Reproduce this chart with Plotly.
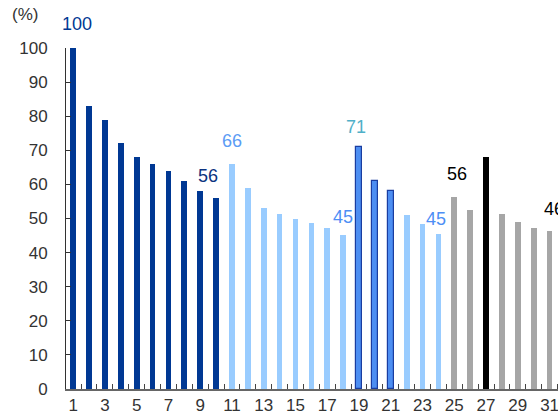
import plotly.graph_objects as go

# ---- data ----
positions = list(range(1, 32))
values = [100, 83, 79, 72, 68, 66, 64, 61, 58, 56,
          66, 59, 53, 51.3, 50, 48.7, 47.2, 45.2,
          71, 61, 58,
          51, 48.4, 45.5,
          56.4, 52.5, 68, 51.3, 49, 47.2, 46.3]
groups = (["dark"] * 10 + ["light"] * 8 + ["mid"] * 3 + ["light"] * 3 +
          ["grey"] * 2 + ["black"] + ["grey"] * 4)
tick_vals = list(range(1, 32, 2))
tick_text = [str(v) for v in tick_vals]

label_pos = [1, 10, 11, 18, 19, 24, 25, 31]
label_text = ["100", "56", "66", "45", "71", "45", "56", "46"]

# ---- styles ----
fill = {"dark": "#003893", "light": "#99ccff", "mid": "#4d8ef2",
        "grey": "#a6a6a6", "black": "#000000"}
edge_w = {"dark": 0, "light": 0, "mid": 1.2, "grey": 0, "black": 0}
label_color = ["#003893", "#0c3380", "#5b9cf5", "#4d8ef5", "#4fb0c8",
               "#4d8ef5", "#000000", "#000000"]
label_dx = [4, -8, 0, 0, -3, -2, 3, 4]
label_dy = [24, 22, 23, 18, 20, 15, 23, 22]

fig = go.Figure()
fig.add_trace(go.Bar(
    x=positions, y=values, width=0.36,
    marker=dict(color=[fill[g] for g in groups],
                line=dict(color="#1a3da0", width=[edge_w[g] for g in groups])),
    hoverinfo="skip", showlegend=False,
))

val_by_pos = dict(zip(positions, values))
for p, t, c, dx, dy in zip(label_pos, label_text, label_color, label_dx, label_dy):
    fig.add_annotation(x=p, y=val_by_pos[p], text=t, showarrow=False,
                       xref="x", yref="y", xshift=dx, yshift=dy,
                       yanchor="middle", xanchor="center",
                       font=dict(family="Liberation Sans, Arial", size=18, color=c))

fig.add_annotation(x=-0.114, y=1.097, xref="paper", yref="paper", text="(%)",
                   showarrow=False, xanchor="left", yanchor="middle",
                   font=dict(family="Liberation Sans, Arial", size=17, color="#333333"))

fig.update_layout(
    width=558, height=420,
    margin=dict(l=66, r=0, t=48, b=31, autoexpand=False),
    paper_bgcolor="white", plot_bgcolor="white",
    bargap=0,
    font=dict(family="Liberation Sans, Arial", size=17, color="#333333"),
)
fig.update_xaxes(
    range=[0.55, 31.53], tickmode="array", tickvals=tick_vals, ticktext=tick_text,
    ticks="", showgrid=False, zeroline=False, showline=True,
    linecolor="#666666", linewidth=2, automargin=False,
    ticklabeloverflow="allow",
    tickfont=dict(size=17, color="#333333"),
    minor=dict(tickmode="array", tickvals=[i + 0.5 for i in range(0, 32)],
               ticks="inside", ticklen=5, tickcolor="#444444", tickwidth=1,
               showgrid=False),
)
fig.update_yaxes(
    range=[0, 100], tickmode="array", tickvals=list(range(0, 101, 10)),
    ticks="inside", ticklen=5, tickcolor="#333333", tickwidth=1,
    showgrid=False, zeroline=False, showline=True,
    linecolor="#333333", linewidth=1, automargin=False,
    ticklabelstandoff=14,
    tickfont=dict(size=17, color="#333333"),
)

fig.write_html("out.html",
               config={"displayModeBar": False},
               post_script="document.body.style.margin='0';document.body.style.overflow='hidden';")
